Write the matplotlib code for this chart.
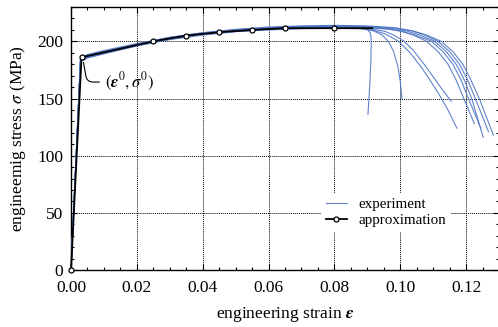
import matplotlib
matplotlib.use("Agg")
import matplotlib.pyplot as plt
from matplotlib.ticker import MultipleLocator

plt.rcParams['font.family'] = ['Liberation Serif', 'DejaVu Serif']
plt.rcParams['mathtext.fontset'] = 'stix'

# ---------------- data ----------------
# common pre-necking strain points
eps_pre = [0.0, 0.0029, 0.005, 0.01, 0.02, 0.03, 0.04, 0.05, 0.06, 0.07, 0.08]

# stresses of each experiment at eps_pre (MPa)
sig_pre_A = [0, 184.0, 187.0, 190.5, 197.0, 203.0, 207.0, 209.5, 211.0, 212.0, 212.3]
sig_pre_B = [0, 182.0, 185.5, 189.0, 196.0, 202.0, 206.0, 208.5, 210.5, 211.5, 212.0]
sig_pre_C = [0, 185.0, 188.0, 191.0, 197.5, 203.5, 207.5, 210.0, 211.5, 212.5, 213.0]
sig_pre_D = [0, 183.0, 186.0, 189.5, 196.0, 201.5, 205.5, 208.5, 210.0, 211.0, 211.5]
sig_pre_E1 = [0, 184.0, 187.5, 191.0, 197.5, 203.0, 207.0, 210.0, 212.0, 213.0, 213.5]
sig_pre_E2 = [0, 182.5, 186.0, 190.0, 196.5, 202.0, 206.0, 209.0, 211.0, 212.0, 212.5]
sig_pre_E3 = [0, 183.5, 187.0, 190.5, 197.0, 202.5, 206.5, 209.5, 211.5, 212.5, 213.0]
sig_pre_E4 = [0, 185.5, 188.5, 192.0, 198.0, 203.5, 207.5, 210.5, 212.5, 213.5, 214.0]
sig_pre_E5 = [0, 184.5, 187.5, 191.0, 197.0, 203.0, 207.0, 210.0, 212.0, 213.0, 213.5]

# post-necking parts (strain, stress)
eps_post_A = [0.087, 0.0900, 0.0910, 0.0912, 0.0911, 0.0908, 0.0905, 0.0902]
sig_post_A = [212.0, 210.5, 207.0, 200.0, 185.0, 165.0, 150.0, 136.0]
eps_post_B = [0.088, 0.092, 0.0945, 0.0964, 0.0980, 0.0993, 0.1000, 0.1005]
sig_post_B = [211.5, 209.0, 205.5, 200.0, 191.0, 178.0, 165.0, 150.0]
eps_post_C = [0.089, 0.0954, 0.098, 0.101, 0.104, 0.107, 0.110, 0.113, 0.1155]
sig_post_C = [212.0, 208.7, 205.5, 200.5, 192.0, 181.0, 169.0, 157.0, 147.5]
eps_post_D = [0.088, 0.092, 0.0954, 0.0995, 0.103, 0.1065, 0.1095, 0.1115, 0.1145, 0.1172]
sig_post_D = [211.0, 209.5, 206.6, 200.0, 190.0, 177.0, 164.0, 155.0, 140.0, 124.0]
eps_post_E1 = [0.090, 0.096, 0.100, 0.104, 0.108, 0.1115, 0.1145, 0.1170, 0.1193, 0.1225]
sig_post_E1 = [212.5, 211.0, 209.0, 205.5, 200.0, 191.0, 180.0, 166.0, 150.0, 128.0]
eps_post_E2 = [0.090, 0.097, 0.101, 0.105, 0.1095, 0.1130, 0.1160, 0.1185, 0.1207, 0.1245]
sig_post_E2 = [212.0, 210.5, 208.5, 205.0, 200.0, 191.0, 180.0, 166.0, 150.0, 124.0]
eps_post_E3 = [0.090, 0.098, 0.102, 0.106, 0.1105, 0.1140, 0.1170, 0.1195, 0.1217, 0.1252]
sig_post_E3 = [212.5, 211.0, 209.0, 205.5, 200.0, 191.0, 180.0, 166.0, 150.0, 116.0]
eps_post_E4 = [0.090, 0.098, 0.103, 0.107, 0.1115, 0.1150, 0.1180, 0.1205, 0.1228, 0.1268]
sig_post_E4 = [213.5, 212.0, 209.5, 206.0, 200.0, 191.0, 180.0, 166.0, 150.0, 121.0]
eps_post_E5 = [0.090, 0.099, 0.104, 0.108, 0.1125, 0.1160, 0.1190, 0.1215, 0.1240, 0.1283]
sig_post_E5 = [213.0, 211.5, 209.0, 205.5, 200.0, 191.0, 180.0, 166.0, 150.0, 118.0]

# approximation
eps_approx = [0.0, 0.0032, 0.025, 0.035, 0.045, 0.055, 0.065, 0.080, 0.0915]
sig_approx = [0.0, 186.0, 200.0, 205.0, 208.0, 210.0, 211.5, 211.5, 211.5]

x_ticks = [0.00, 0.02, 0.04, 0.06, 0.08, 0.10, 0.12]
x_tick_labels = ["0.00", "0.02", "0.04", "0.06", "0.08", "0.10", "0.12"]
y_ticks = [0, 50, 100, 150, 200]
y_tick_labels = ["0", "50", "100", "150", "200"]

experiments = [
    (sig_pre_A, eps_post_A, sig_post_A),
    (sig_pre_B, eps_post_B, sig_post_B),
    (sig_pre_C, eps_post_C, sig_post_C),
    (sig_pre_D, eps_post_D, sig_post_D),
    (sig_pre_E1, eps_post_E1, sig_post_E1),
    (sig_pre_E2, eps_post_E2, sig_post_E2),
    (sig_pre_E3, eps_post_E3, sig_post_E3),
    (sig_pre_E4, eps_post_E4, sig_post_E4),
    (sig_pre_E5, eps_post_E5, sig_post_E5),
]

# ---------------- figure ----------------
fig = plt.figure(figsize=(4.98, 3.27), dpi=100)
ax = fig.add_axes([71 / 498, 1 - 270 / 327, 428 / 498, (270 - 6.7) / 327])

blue = '#4f77c6'
for i, (sp, ep, spost) in enumerate(experiments):
    xs = list(eps_pre) + list(ep)
    ys = list(sp) + list(spost)
    ax.plot(xs, ys, color=blue, lw=0.8, alpha=0.9, zorder=3,
            label='experiment' if i == 0 else None)

ax.plot(eps_approx, sig_approx, color='black', lw=1.3, zorder=5, clip_on=False,
        marker='o', markersize=3.6, markerfacecolor='white',
        markeredgecolor='black', markeredgewidth=0.9,
        markevery=list(range(len(eps_approx) - 1)), label='approximation')

ax.set_xlim(0, 0.13)
ax.set_ylim(0, 230.3)
ax.set_xticks(x_ticks)
ax.set_xticklabels(x_tick_labels)
ax.set_yticks(y_ticks)
ax.set_yticklabels(y_tick_labels)
ax.xaxis.set_minor_locator(MultipleLocator(0.005))
ax.yaxis.set_minor_locator(MultipleLocator(10))
ax.tick_params(which='both', direction='in', top=True, right=True,
               labelsize=12.5, width=0.8)
ax.tick_params(axis='x', which='both', pad=7)
ax.tick_params(axis='y', which='both', pad=5.5)
ax.tick_params(which='major', length=4)
ax.tick_params(which='minor', length=2.2)
for s in ax.spines.values():
    s.set_linewidth(1.0)

ax.grid(True, which='major', color='black', linestyle=(0, (1, 1)), lw=0.7, zorder=1)
ax.set_axisbelow(True)

ax.set_xlabel(r'engineering strain $\mathbfit{\varepsilon}$', fontsize=12.5, labelpad=7)
ax.set_ylabel(r'engineemig stress $\sigma$ (MPa)', fontsize=12.5, labelpad=7)

ax.annotate(r'$(\mathbfit{\varepsilon}^0, \sigma^0)$', xy=(0.0038, 181.5),
            xytext=(0.0103, 164.4), fontsize=12, ha='left', va='center',
            arrowprops=dict(arrowstyle='-', color='black', lw=0.8,
                            connectionstyle='angle,angleA=0,angleB=100,rad=6',
                            relpos=(0, 0.5), shrinkA=2, shrinkB=0))

leg = ax.legend(loc='lower right', bbox_to_anchor=(0.905, 0.117), fontsize=10.8,
                frameon=True, fancybox=False, edgecolor='none', facecolor='white',
                framealpha=1, handlelength=1.45, handletextpad=0.75,
                borderpad=0.3, labelspacing=0.15)
leg.set_zorder(6)

fig.savefig('out.png', dpi=100)
